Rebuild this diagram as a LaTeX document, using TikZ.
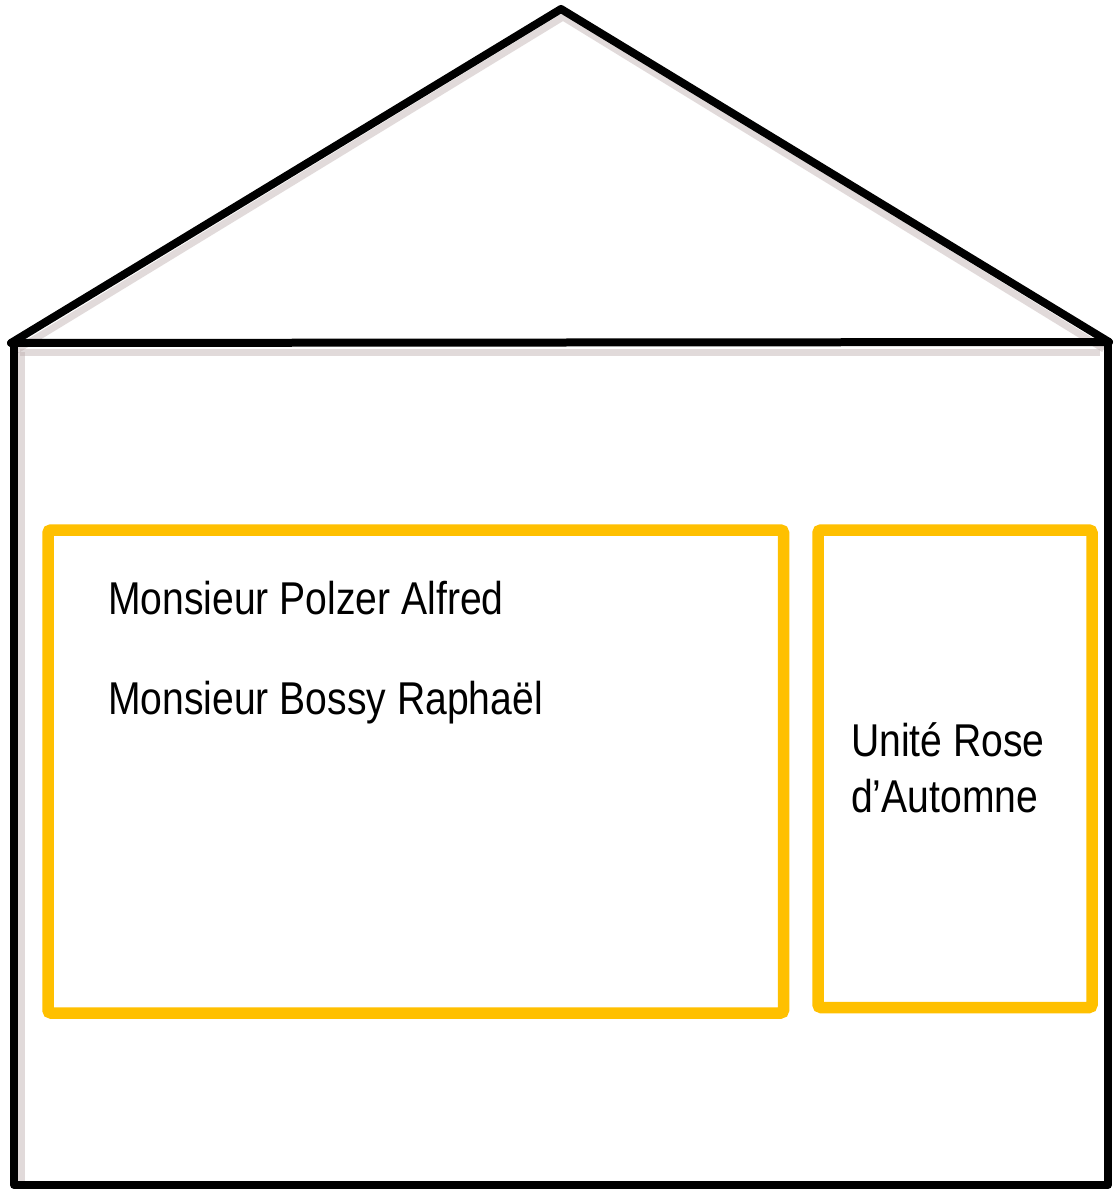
\documentclass[tikz,border=0pt]{standalone}
\usepackage{fontspec}
\setmainfont{Liberation Sans}
\definecolor{gold}{HTML}{FFC000}
\definecolor{shade}{RGB}{190,175,175}
\newcommand{\narrowtext}[1]{\scalebox{0.85}[1]{#1}}
\begin{document}
\begin{tikzpicture}[x=1pt,y=-1pt,
  wall/.style={draw=black,line width=8pt,line join=round,line cap=round},
  shadowline/.style={draw=shade,line width=7pt,opacity=0.45},
  ybox/.style={draw=gold,line width=11.5pt,rounded corners=3pt},
  label/.style={anchor=base west,inner sep=0pt,font=\fontsize{46}{56}\selectfont}]
\useasboundingbox[fill=white] (0,0) rectangle (1114,1189);
% shadows
\draw[shadowline] (15,351) -- (563,17) -- (1104,349);
\draw[shadowline] (20,352) -- (1100,352);
\draw[shadowline] (21,352) -- (21,1181);
% house
\coordinate (apex) at (561,9);
\coordinate (eaveL) at (11,343);
\coordinate (eaveR) at (1109,342);
\coordinate (baseL) at (14,1185);
\coordinate (baseR) at (1108,1185);
\draw[wall] (eaveL) -- (apex) -- (eaveR);
\draw[wall] (eaveL) -- (eaveR);
\draw[wall] (14,344) -- (baseL) -- (baseR) -- (1108,344);
% yellow boxes
\draw[ybox] (48,530) rectangle (783.5,1013);
\draw[ybox] (818,530) rectangle (1092,1007.5);
% texts
\node[label] (n1) at (108,614) {\narrowtext{Monsieur Polzer Alfred}};
\node[label] (n2) at (108,714) {\narrowtext{Monsieur Bossy Raphaël}};
\node[label] (n3) at (851,756) {\narrowtext{Unité Rose}};
\node[label] (n4) at (851,812) {\narrowtext{d’Automne}};
\end{tikzpicture}
\end{document}
